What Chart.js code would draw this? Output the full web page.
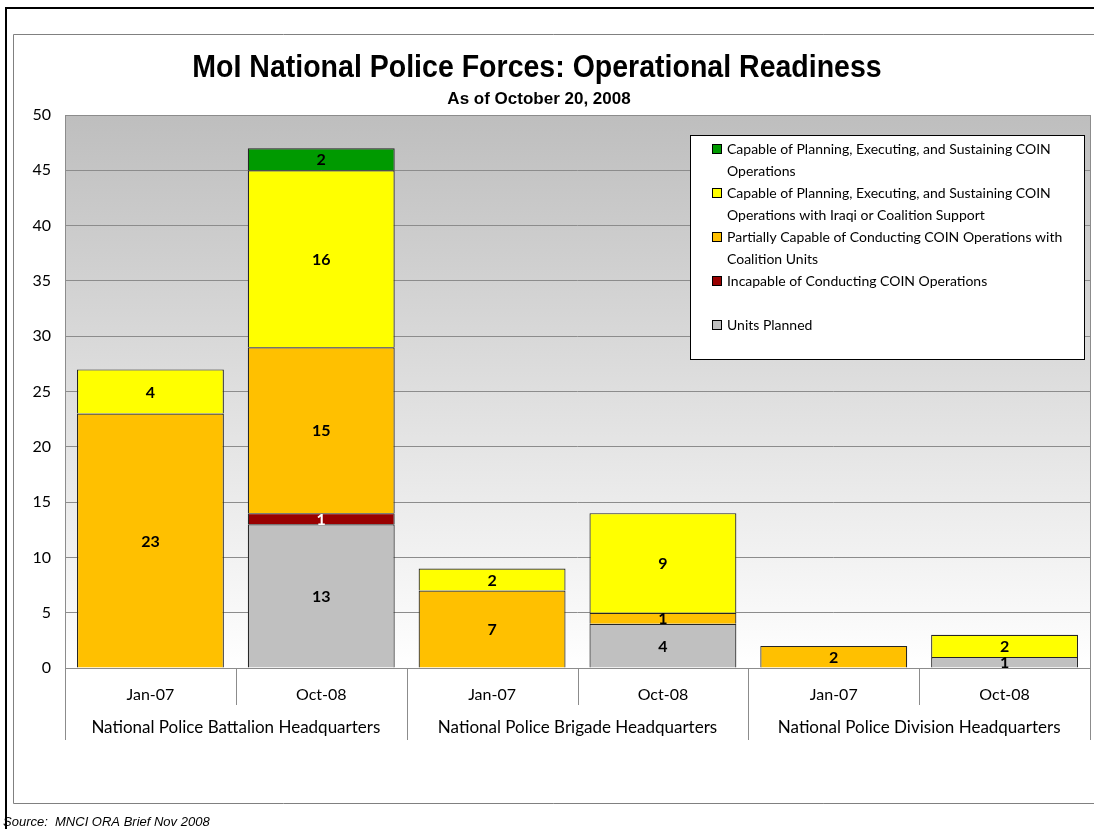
<!DOCTYPE html>
<html>
<head>
<meta charset="utf-8">
<script src="https://cdn.jsdelivr.net/npm/chart.js@4/dist/chart.umd.min.js"></script>
<style>
html,body{margin:0;padding:0;background:#fff;}
#wrap{position:relative;width:1094px;height:829px;}
canvas{display:block;}
</style>
</head>
<body>
<div id="wrap"><canvas id="c" width="1094" height="829"></canvas></div>
<script>
const periods = ["Jan-07","Oct-08","Jan-07","Oct-08","Jan-07","Oct-08"];
const groups = ["National Police Battalion Headquarters","National Police Brigade Headquarters","National Police Division Headquarters"];
const unitsPlanned = [0,13,0,4,0,1];
const incapable = [0,1,0,0,0,0];
const partiallyCapable = [23,15,7,1,2,0];
const capableWithSupport = [4,16,2,9,0,2];
const capable = [0,2,0,0,0,0];
const yTicks = [0,5,10,15,20,25,30,35,40,45,50];

const titleText = "MoI National Police Forces: Operational Readiness";
const subtitleText = "As of October 20, 2008";
const sourceText = "Source:  MNCI ORA Brief Nov 2008";

const legendItems = [
  {lines:["Capable of Planning, Executing, and Sustaining COIN","Operations"], color:"#009A00"},
  {lines:["Capable of Planning, Executing, and Sustaining COIN","Operations with Iraqi or Coalition Support"], color:"#FFFF00"},
  {lines:["Partially Capable of Conducting COIN Operations with","Coalition Units"], color:"#FFC000"},
  {lines:["Incapable of Conducting COIN Operations",""], color:"#990000"},
  {lines:["Units Planned"], color:"#C0C0C0"}
];

const FONT = "Lato, 'Open Sans', sans-serif";
const SANS = "'Liberation Sans', Arial, sans-serif";

const frame = {
  id:'frame',
  beforeDraw(chart){
    const ctx = chart.ctx, a = chart.chartArea;
    ctx.save();
    ctx.fillStyle = '#fff';
    ctx.fillRect(0,0,chart.width,chart.height);
    ctx.strokeStyle = '#000'; ctx.lineWidth = 2;
    ctx.beginPath(); ctx.moveTo(6,829); ctx.lineTo(6,8); ctx.lineTo(1094,8); ctx.stroke();
    ctx.strokeStyle = '#808080'; ctx.lineWidth = 1;
    ctx.beginPath(); ctx.moveTo(1094,34.5); ctx.lineTo(13.5,34.5); ctx.lineTo(13.5,803.5); ctx.lineTo(1094,803.5); ctx.stroke();
    const g = ctx.createLinearGradient(0,a.top,0,a.bottom);
    g.addColorStop(0,'#BEBEBE'); g.addColorStop(1,'#FFFFFF');
    ctx.fillStyle = g;
    ctx.fillRect(a.left,a.top,a.right-a.left,a.bottom-a.top);
    ctx.strokeStyle = '#8c8c8c';
    ctx.strokeRect(a.left+0.5,a.top+0.5,a.right-a.left,a.bottom-a.top);
    ctx.restore();
  },
  afterDatasetsDraw(chart){
    const ctx = chart.ctx;
    ctx.save();
    ctx.font = "bold 16px " + FONT;
    ctx.textAlign = 'center'; ctx.textBaseline = 'middle';
    chart.data.datasets.forEach((ds,di)=>{
      const meta = chart.getDatasetMeta(di);
      meta.data.forEach((bar,i)=>{
        const v = ds.data[i];
        if(!v) return;
        const yc = (bar.y + bar.base)/2;
        ctx.fillStyle = ds.labelColor || '#000';
        ctx.fillText(String(v), bar.x, yc+1);
      });
    });
    ctx.restore();
  },
  afterDraw(chart){
    const ctx = chart.ctx, a = chart.chartArea;
    ctx.save();
    ctx.fillStyle = '#000';
    ctx.textAlign = 'center'; ctx.textBaseline = 'middle';
    // title (condensed)
    ctx.save();
    ctx.translate(537, 68);
    ctx.scale(0.92, 1);
    ctx.font = "bold 31px " + SANS;
    ctx.fillText(titleText, 0, 0);
    ctx.restore();
    ctx.font = "bold 17px " + SANS;
    ctx.fillText(subtitleText, 539, 99);
    // x separators
    ctx.strokeStyle = '#8c8c8c'; ctx.lineWidth = 1;
    const step = (a.right - a.left) / periods.length;
    for(let k=0;k<=periods.length;k++){
      const px = Math.round(a.left + k*step) + 0.5;
      const len = (k % 2 === 0) ? 740 : 705;
      ctx.beginPath(); ctx.moveTo(px,a.bottom); ctx.lineTo(px,len); ctx.stroke();
    }
    // group labels
    ctx.fillStyle = '#000';
    ctx.font = "17px " + FONT;
    groups.forEach((gname,gi)=>{
      const cx = a.left + (gi*2+1)*step;
      ctx.fillText(gname, cx, 728);
    });
    // legend
    const lx = 690, ly = 135, lw = 394, lh = 224;
    ctx.fillStyle = '#fff'; ctx.fillRect(lx,ly,lw,lh);
    ctx.strokeStyle = '#000'; ctx.strokeRect(lx+0.5,ly+0.5,lw,lh);
    ctx.font = "14px " + FONT;
    ctx.textAlign = 'left';
    let yy = 149;
    legendItems.forEach(it=>{
      ctx.fillStyle = it.color;
      ctx.fillRect(712,yy-5,10,10);
      ctx.strokeStyle = '#000';
      ctx.strokeRect(712.5,yy-4.5,9,9);
      ctx.fillStyle = '#000';
      it.lines.forEach((ln,li)=>{
        ctx.fillText(ln, 727, yy + li*22);
      });
      yy += it.lines.length*22;
    });
    // source
    ctx.font = "italic 13px " + SANS;
    ctx.textAlign = 'left';
    ctx.fillText(sourceText, 3, 822);
    ctx.restore();
  }
};

const common = {borderColor:'#262626', borderWidth:1.2, barPercentage:0.86, categoryPercentage:1.0};
new Chart(document.getElementById('c'), {
  type:'bar',
  data:{
    labels: periods,
    datasets:[
      Object.assign({label:'Units Planned', data:unitsPlanned, backgroundColor:'#C0C0C0'}, common),
      Object.assign({label:'Incapable of Conducting COIN Operations', data:incapable, backgroundColor:'#990000', labelColor:'#fff'}, common),
      Object.assign({label:'Partially Capable of Conducting COIN Operations with Coalition Units', data:partiallyCapable, backgroundColor:'#FFC000'}, common),
      Object.assign({label:'Capable of Planning, Executing, and Sustaining COIN Operations with Iraqi or Coalition Support', data:capableWithSupport, backgroundColor:'#FFFF00'}, common),
      Object.assign({label:'Capable of Planning, Executing, and Sustaining COIN Operations', data:capable, backgroundColor:'#009A00'}, common)
    ]
  },
  options:{
    responsive:false,
    animation:false,
    devicePixelRatio:1,
    layout:{padding:{left:0,right:4,top:115,bottom:0}},
    plugins:{legend:{display:false},title:{display:false},tooltip:{enabled:false}},
    scales:{
      x:{
        stacked:true,
        grid:{display:false},
        border:{display:false},
        ticks:{color:'#000', font:{family:FONT,size:16}, padding:9, maxRotation:0},
        afterFit(s){ s.height = 161; }
      },
      y:{
        stacked:true,
        min:0, max:50,
        afterBuildTicks(s){ s.ticks = yTicks.map(v=>({value:v})); },
        grid:{color:'#8c8c8c', drawTicks:false},
        border:{display:false},
        ticks:{color:'#000', font:{family:FONT,size:16}, padding:14},
        afterFit(s){ s.width = 65; }
      }
    }
  },
  plugins:[frame]
});
</script>
</body>
</html>
